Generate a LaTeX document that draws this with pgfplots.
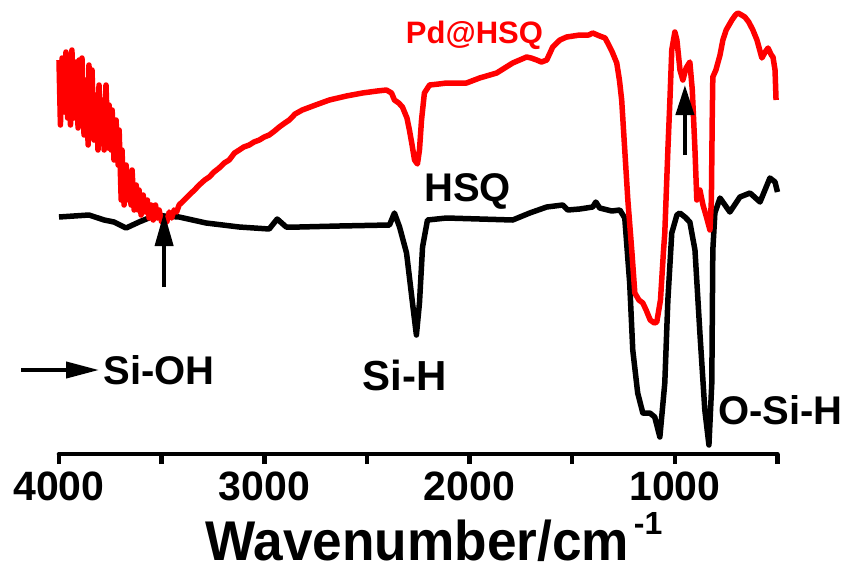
\documentclass[border=0pt]{standalone}
\usepackage{pgfplots}
\pgfplotsset{compat=1.18}
\usepackage{fontspec}
\setmainfont{Liberation Sans}
\usetikzlibrary{arrows.meta}
\begin{document}
\begin{tikzpicture}
\path[use as bounding box] (0,0) rectangle (847pt,-571pt);
\begin{axis}[
 at={(59pt,-454pt)}, anchor=south west,
 scale only axis, width=718.5pt, height=454pt,
 xmin=500, xmax=4000, x dir=reverse,
 ymin=-454, ymax=0,
 axis x line*=bottom, axis y line=none,
 xtick={1000,2000,3000,4000}, minor xtick={500,1500,2500,3500},
 tick align=outside, major tick length=10pt, minor tick length=10pt,
 every tick/.style={line width=4.5pt, black},
 every minor tick/.style={line width=4.5pt, black},
 axis line style={line width=4.5pt, line cap=round},
 xticklabel style={font=\fontsize{41}{43}\selectfont\bfseries, anchor=north, inner sep=0pt, yshift=-8pt},
 /pgf/number format/assume math mode=true,
 /pgf/number format/1000 sep={},
 clip=false,
]
\addplot[black, line width=5.5pt, line join=round] coordinates {
(4000,-217)(3927,-216)(3854,-215)(3780,-220)(3732,-222)(3673,-228)(3610,-222)
(3527,-215)(3488,-216)(3415,-217)(3283,-223)(3122,-227)(2976,-229)(2937,-219)
(2893,-227)(2829,-227)(2634,-226)(2390,-225)(2366,-213)(2341,-227)(2307,-253)
(2278,-303)(2259,-335)(2244,-303)(2229,-247)(2205,-220)(2112,-218)(1951,-219)
(1790,-220)(1707,-213)(1624,-207)(1546,-205)(1522,-210)(1463,-209)(1400,-207)
(1385,-202)(1366,-208)(1307,-211)(1268,-210)(1244,-218)(1220,-283)(1205,-350)
(1181,-393)(1156,-413)(1122,-413)(1098,-417)(1073,-437)(1049,-383)(1034,-300)
(1015,-233)(990,-215)(976,-213)(951,-217)(927,-222)(902,-250)(878,-333)
(854,-410)(834,-445)(820,-383)(815,-250)(805,-213)(780,-198)(756,-205)
(732,-212)(683,-197)(634,-193)(585,-202)(537,-178)(512,-182)(500,-192)
};
\addplot[red, line width=5.5pt, line join=round] coordinates {
(4000,-60)(3993,-125)(3985,-58)(3975,-112)(3966,-52)(3958,-118)(3951,-55)
(3944,-125)(3937,-50)(3927,-118)(3917,-62)(3907,-128)(3902,-60)(3893,-120)
(3888,-58)(3878,-135)(3868,-80)(3858,-145)(3854,-65)(3844,-130)(3839,-70)
(3830,-140)(3820,-95)(3810,-150)(3805,-85)(3795,-140)(3790,-100)(3780,-150)
(3771,-85)(3761,-148)(3756,-105)(3746,-150)(3741,-110)(3732,-160)(3722,-120)
(3712,-165)(3707,-130)(3697,-200)(3693,-150)(3683,-205)(3673,-165)(3663,-200)
(3659,-175)(3649,-205)(3644,-170)(3634,-210)(3624,-185)(3615,-210)(3610,-190)
(3600,-215)(3590,-195)(3580,-212)(3570,-200)(3561,-218)(3551,-205)(3541,-220)
(3530,-205)(3520,-218)(3512,-210)(3500,-222)(3488,-218)(3475,-222)(3463,-212)
(3451,-218)(3439,-210)(3427,-212)(3415,-205)(3390,-200)(3366,-195)(3340,-190)
(3317,-185)(3290,-180)(3268,-177)(3245,-172)(3220,-168)(3195,-163)(3171,-160)
(3145,-153)(3122,-150)(3100,-147)(3073,-145)(3050,-142)(3024,-140)(3000,-137)
(2976,-135)(2950,-131)(2927,-127)(2900,-123)(2878,-120)(2850,-114)(2815,-110)
(2750,-105)(2683,-100)(2600,-96)(2522,-93)(2450,-91)(2405,-90)(2380,-93)
(2366,-100)(2345,-103)(2327,-107)(2305,-118)(2293,-130)(2280,-145)(2268,-160)
(2254,-164)(2244,-150)(2234,-120)(2220,-93)(2195,-85)(2150,-84)(2112,-83)
(2015,-83)(1951,-78)(1868,-73)(1790,-63)(1722,-57)(1700,-58)(1673,-60)
(1650,-62)(1624,-60)(1595,-47)(1560,-40)(1527,-37)(1463,-35)(1420,-35)
(1400,-33)(1366,-36)(1340,-38)(1327,-43)(1305,-52)(1283,-63)(1270,-80)
(1259,-100)(1244,-150)(1229,-200)(1210,-250)(1195,-293)(1175,-300)(1156,-303)
(1140,-310)(1120,-320)(1100,-323)(1088,-322)(1070,-300)(1055,-250)(1049,-233)
(1034,-150)(1024,-100)(1015,-50)(1000,-32)(990,-40)(975,-70)(961,-80)
(945,-68)(927,-62)(915,-90)(902,-150)(893,-200)(878,-190)(863,-205)
(846,-217)(829,-230)(822,-200)(818,-120)(815,-77)(800,-70)(780,-55)
(766,-40)(750,-30)(722,-20)(705,-15)(693,-13)(675,-15)(659,-17)(640,-22)
(620,-30)(600,-40)(576,-58)(560,-52)(546,-48)(530,-55)(522,-57)(512,-70)
(507,-100)
};
\draw[line width=4pt, -{Triangle[length=34pt,width=18pt]}] (axis cs:3488,-287) -- (axis cs:3488,-212);
\draw[line width=4pt, -{Triangle[length=30pt,width=18pt]}] (axis cs:951,-155) -- (axis cs:951,-85);
\draw[line width=4pt, -{Triangle[length=33pt,width=16pt]}] (axis cs:4185,-370) -- (axis cs:3805,-370);
\node[anchor=west, font=\fontsize{40}{42}\selectfont\bfseries, inner sep=0pt] at (axis cs:3785,-370) {Si-OH};
\node[font=\fontsize{42}{44}\selectfont\bfseries, inner sep=0pt] at (axis cs:2317,-375) {Si-H};
\node[anchor=west, font=\fontsize{40}{42}\selectfont\bfseries, inner sep=0pt] at (axis cs:790,-410) {O-Si-H};
\node[font=\fontsize{40}{42}\selectfont\bfseries, inner sep=0pt] at (axis cs:2010,-191) {HSQ};
\node[red, font=\fontsize{31}{33}\selectfont\bfseries, inner sep=0pt] at (axis cs:1976,-35) {Pd@HSQ};
\end{axis}
\node[anchor=base west, inner sep=0pt] at (205pt,-560pt)
 {\scalebox{0.95}[1]{\fontsize{56}{56}\selectfont\bfseries Wavenumber/cm}\hspace{5pt}\raisebox{26pt}{\fontsize{32}{32}\selectfont\bfseries -1}};
\end{tikzpicture}
\end{document}
